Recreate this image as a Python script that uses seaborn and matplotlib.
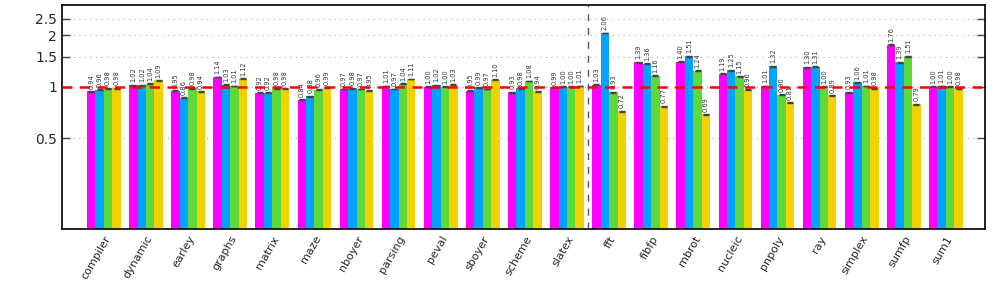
import numpy as np
import pandas as pd
import matplotlib
matplotlib.use("Agg")
import matplotlib.pyplot as plt
import matplotlib.ticker as mticker
import seaborn as sns

# ---------------- DATA ----------------
benchmarks = ["compiler", "dynamic", "earley", "graphs", "matrix", "maze", "nboyer",
              "parsing", "peval", "sboyer", "scheme", "slatex", "fft", "fibfp", "mbrot",
              "nucleic", "pnpoly", "ray", "simplex", "sumfp", "sum1"]

series_a = [0.94, 1.02, 0.95, 1.14, 0.92, 0.84, 0.97, 1.01, 1.00, 0.95, 0.93, 0.99,
            1.03, 1.39, 1.40, 1.19, 1.01, 1.30, 0.93, 1.76, 1.00]
series_b = [0.96, 1.02, 0.86, 1.03, 0.92, 0.88, 0.98, 0.97, 1.02, 0.99, 0.98, 1.00,
            2.06, 1.36, 1.51, 1.25, 1.32, 1.31, 1.06, 1.39, 1.01]
series_c = [0.98, 1.04, 0.98, 1.01, 0.98, 0.96, 0.97, 1.04, 1.00, 0.97, 1.08, 1.00,
            0.93, 1.16, 1.24, 1.15, 0.90, 1.00, 1.01, 1.51, 1.00]
series_d = [0.98, 1.09, 0.94, 1.12, 0.98, 0.99, 0.95, 1.11, 1.03, 1.10, 0.94, 1.01,
            0.72, 0.77, 0.69, 0.96, 0.81, 0.89, 0.98, 0.79, 0.98]

series_names = ["A", "B", "C", "D"]
colors = ["#ff00ff", "#00a2ff", "#5fd83a", "#f0d200"]

yticks = [0.5, 1, 1.5, 2, 2.5]
ytick_labels = ["0.5", "1", "1.5", "2", "2.5"]

df = pd.DataFrame({
    "benchmark": benchmarks * 4,
    "series": np.repeat(series_names, len(benchmarks)),
    "value": series_a + series_b + series_c + series_d,
})

YMIN, YMAX = 0.147, 3.0

# ---------------- PLOT ----------------
sns.set_style("white")
fig = plt.figure(figsize=(9.97, 2.85), dpi=100)
ax = fig.add_axes([0.062, 0.196, 0.926, 0.786])

sns.barplot(data=df, x="benchmark", y="value", hue="series", palette=colors,
            saturation=1, errorbar=None, width=0.8, linewidth=0, legend=False, ax=ax)
ax.set_yscale("log")

# bars start at the bottom of the log axis; small dark caps + value labels
bar_conts = list(ax.containers)
for cont in bar_conts:
    xs = [p.get_x() + p.get_width() / 2 for p in cont]
    ys = [p.get_height() for p in cont]
    for p, h in zip(cont, ys):
        p.set_y(YMIN)
        p.set_height(h - YMIN)
    ax.errorbar(xs, ys, yerr=[0.006 * y for y in ys], fmt="none", ecolor="#444444",
                elinewidth=0.7, capsize=2.5, capthick=1.0, zorder=3)
    ax.bar_label(cont, fmt="%.2f", rotation=90, fontsize=4.8, padding=2, color="#333333")

ax.set_ylim(YMIN, YMAX)
ax.set_xlim(-1.0, 20.93)
ax.yaxis.set_major_locator(mticker.FixedLocator(yticks))
ax.yaxis.set_minor_locator(mticker.NullLocator())
ax.set_yticklabels(ytick_labels, fontsize=10)
ax.tick_params(axis="y", direction="in", length=6, width=1, right=True, left=True,
               color="#444444")
ax.tick_params(axis="x", length=0)
ax.set_xticks(range(len(benchmarks)))
ax.set_xticklabels(benchmarks, rotation=60, ha="right", rotation_mode="anchor", fontsize=8)
ax.set_xlabel("")
ax.set_ylabel("")

ax.yaxis.grid(True, linestyle=(0, (1, 4)), color="#aaaaaa", linewidth=0.8)
ax.set_axisbelow(True)

ax.axhline(1.0, color="red", linestyle=(0, (4, 3)), linewidth=1.8, zorder=4)
ax.axvline(11.5, color="#555555", linestyle=(0, (5, 5)), linewidth=1, zorder=4)

for s in ax.spines.values():
    s.set_visible(True)
    s.set_color("black")
    s.set_linewidth(1.2)

fig.savefig("out.png", dpi=100)
